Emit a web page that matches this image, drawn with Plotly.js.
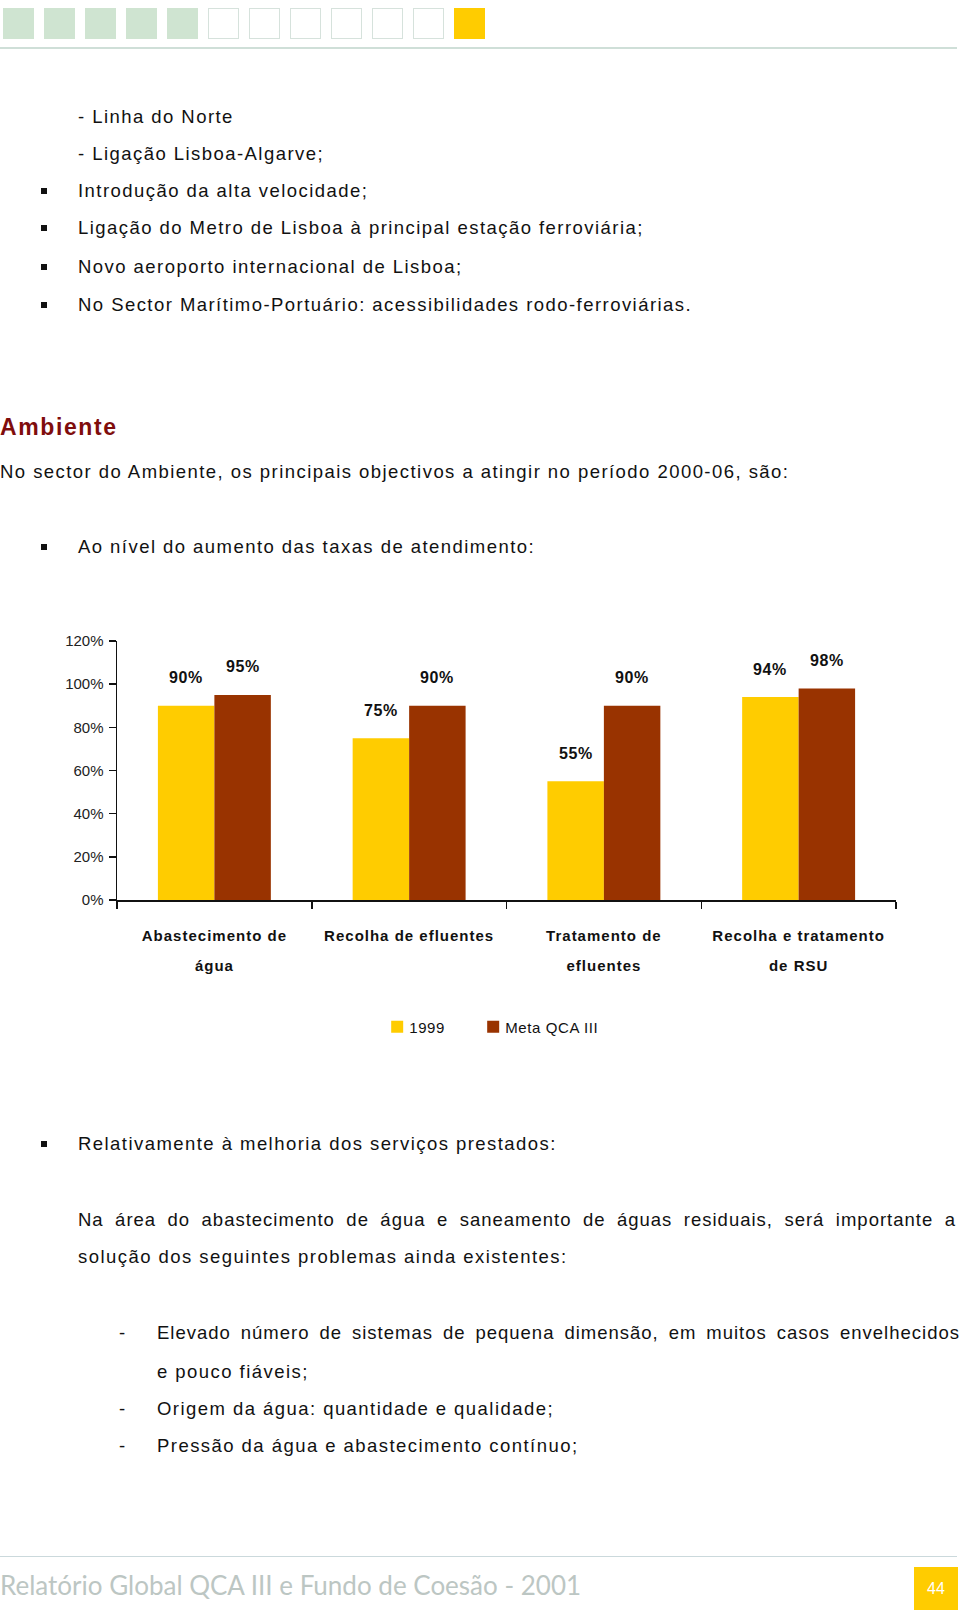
<!DOCTYPE html>
<html>
<head>
<meta charset="utf-8">
<script src="https://cdn.plot.ly/plotly-3.0.1.min.js"></script>
<style>
  html, body { margin: 0; padding: 0; background: #fff; }
  body { width: 960px; height: 1619px; position: relative; overflow: hidden;
         font-family: "Liberation Sans", Arial, sans-serif; color: #111; }
  .t { position: absolute; font-size: 18.5px; line-height: 24px; white-space: nowrap; letter-spacing: 1.45px; }
  .sq { position: absolute; width: 6px; height: 6px; background: #111; }
  .hs { position: absolute; top: 8px; width: 31px; height: 31px; box-sizing: border-box; }
  .hline { position: absolute; left: 0; width: 957px; height: 0; }
  #chart { position: absolute; left: 0; top: 600px; width: 960px; height: 460px; }
  .xtick text { letter-spacing: 1px; }
  .legendtext { letter-spacing: 0.6px; }
  .annotation-text { letter-spacing: 0.6px; }
</style>
</head>
<body>

<!-- header squares -->
<div class="hs" style="left:3px;background:#cfe4d1;"></div>
<div class="hs" style="left:44px;background:#cfe4d1;"></div>
<div class="hs" style="left:85px;background:#cfe4d1;"></div>
<div class="hs" style="left:126px;background:#cfe4d1;"></div>
<div class="hs" style="left:167px;background:#cfe4d1;"></div>
<div class="hs" style="left:208px;border:1.5px solid #d6e2dc;"></div>
<div class="hs" style="left:249px;border:1.5px solid #d6e2dc;"></div>
<div class="hs" style="left:290px;border:1.5px solid #d6e2dc;"></div>
<div class="hs" style="left:331px;border:1.5px solid #d6e2dc;"></div>
<div class="hs" style="left:372px;border:1.5px solid #d6e2dc;"></div>
<div class="hs" style="left:413px;border:1.5px solid #d6e2dc;"></div>
<div class="hs" style="left:454px;background:#ffcc00;"></div>
<div class="hline" style="top:47px;border-top:2px solid #cfdfd8;"></div>

<!-- top list -->
<div class="t" style="left:78px;top:105px;">- Linha do Norte</div>
<div class="t" style="left:78px;top:142px;">- Ligação Lisboa-Algarve;</div>
<div class="sq" style="left:41px;top:188px;"></div>
<div class="t" style="left:78px;top:179px;">Introdução da alta velocidade;</div>
<div class="sq" style="left:41px;top:225px;"></div>
<div class="t" style="left:78px;top:216px;">Ligação do Metro de Lisboa à principal estação ferroviária;</div>
<div class="sq" style="left:41px;top:264px;"></div>
<div class="t" style="left:78px;top:255px;">Novo aeroporto internacional de Lisboa;</div>
<div class="sq" style="left:41px;top:302px;"></div>
<div class="t" style="left:78px;top:293px;">No Sector Marítimo-Portuário: acessibilidades rodo-ferroviárias.</div>

<!-- Ambiente -->
<div class="t" style="left:0px;top:413px;font-size:23px;line-height:28px;font-weight:bold;color:#7f0d0d;letter-spacing:1.6px;">Ambiente</div>
<div class="t" style="left:0px;top:460px;">No sector do Ambiente, os principais objectivos a atingir no período 2000-06, são:</div>
<div class="sq" style="left:41px;top:544px;"></div>
<div class="t" style="left:78px;top:535px;">Ao nível do aumento das taxas de atendimento:</div>

<div id="chart"></div>

<!-- lower text -->
<div class="sq" style="left:41px;top:1141px;"></div>
<div class="t" style="left:78px;top:1132px;">Relativamente à melhoria dos serviços prestados:</div>
<div class="t" style="left:78px;top:1208px;width:878px;white-space:normal;text-align:justify;text-align-last:justify;letter-spacing:1px;">Na área do abastecimento de água e saneamento de águas residuais, será importante a</div>
<div class="t" style="left:78px;top:1245px;">solução dos seguintes problemas ainda existentes:</div>

<div class="t" style="left:119px;top:1321px;">-</div>
<div class="t" style="left:157px;top:1321px;width:803px;white-space:normal;text-align:justify;text-align-last:justify;letter-spacing:1px;">Elevado número de sistemas de pequena dimensão, em muitos casos envelhecidos</div>
<div class="t" style="left:157px;top:1360px;">e pouco fiáveis;</div>
<div class="t" style="left:119px;top:1397px;">-</div>
<div class="t" style="left:157px;top:1397px;">Origem da água: quantidade e qualidade;</div>
<div class="t" style="left:119px;top:1434px;">-</div>
<div class="t" style="left:157px;top:1434px;">Pressão da água e abastecimento contínuo;</div>

<!-- footer -->
<div class="hline" style="top:1556px;border-top:1.5px solid #cbd9dc;"></div>
<div class="t" style="left:0px;top:1570px;font-family:Lato,'Open Sans',sans-serif;font-size:26px;line-height:30px;color:#bcc6c3;letter-spacing:0px;">Relatório Global QCA III e Fundo de Coesão - 2001</div>
<div style="position:absolute;left:914px;top:1567px;width:44px;height:43px;background:#ffcc00;color:#fff;font-family:'Liberation Sans',Arial,sans-serif;font-size:16px;line-height:43px;text-align:center;">44</div>

<script>
// ---- chart data ----
const categories = ['Abastecimento de água', 'Recolha de efluentes', 'Tratamento de efluentes', 'Recolha e tratamento de RSU'];
const tickLines = [['Abastecimento de', 'água'], ['Recolha de efluentes'], ['Tratamento de', 'efluentes'], ['Recolha e tratamento', 'de RSU']];
const seriesNames = ['1999', 'Meta QCA III'];
const values1999 = [0.90, 0.75, 0.55, 0.94];
const valuesMeta = [0.95, 0.90, 0.90, 0.98];
const yTickVals = [0, 0.2, 0.4, 0.6, 0.8, 1.0, 1.2];

const colors = ['#ffcc00', '#993300'];
const legendWidths = [51, 120];
const margin = {l: 117, r: 64, t: 41, b: 160};
const W = 960, H = 460;
const bargap = 0.42;

const tickText = tickLines.map(lines => lines.map(s => '<span style="font-size:15px">' + s + '</span>').join('<br>'));

const traces = [values1999, valuesMeta].map((vals, i) => ({
  type: 'bar',
  name: seriesNames[i],
  x: categories,
  y: vals,
  legendwidth: legendWidths[i],
  marker: {color: colors[i], line: {width: 0}},
  hoverinfo: 'skip'
}));

// value labels above bars
const plotW = W - margin.l - margin.r;
const barW = plotW / categories.length * (1 - bargap) / 2;
const annotations = [];
[values1999, valuesMeta].forEach((vals, i) => {
  vals.forEach((v, j) => {
    annotations.push({
      x: categories[j], y: v, xref: 'x', yref: 'y',
      text: '<b>' + Math.round(v * 100) + '%</b>',
      showarrow: false,
      xshift: (i === 0 ? -1 : 1) * barW / 2,
      yshift: 28,
      yanchor: 'middle',
      font: {family: 'Liberation Sans, Arial, sans-serif', size: 16, color: '#111'}
    });
  });
});

const layout = {
  width: W, height: H,
  margin: margin,
  paper_bgcolor: 'rgba(0,0,0,0)',
  plot_bgcolor: 'rgba(0,0,0,0)',
  barmode: 'group',
  bargap: bargap,
  bargroupgap: 0,
  font: {family: 'Liberation Sans, Arial, sans-serif', color: '#111'},
  showlegend: true,
  legend: {
    orientation: 'h', x: 0.334, xanchor: 'left', y: -0.49, yanchor: 'middle',
    font: {size: 15, color: '#111'}, itemwidth: 30, traceorder: 'normal'
  },
  xaxis: {
    type: 'category',
    tickvals: categories,
    ticktext: tickText,
    tickfont: {size: 23, weight: 'bold', color: '#111'},
    ticks: 'outside', ticklen: 7, tickwidth: 1.5, tickcolor: '#111',
    tickson: 'boundaries',
    ticklabelstandoff: 12,
    showline: true, linecolor: '#111', linewidth: 1.5,
    showgrid: false, zeroline: false, fixedrange: true
  },
  yaxis: {
    range: [0, 1.2],
    tickvals: yTickVals,
    tickformat: '.0%',
    tickfont: {size: 15, color: '#222'},
    ticks: 'outside', ticklen: 7, tickwidth: 1.5, tickcolor: '#111',
    ticklabelstandoff: 2,
    showline: true, linecolor: '#111', linewidth: 1.5,
    showgrid: false, zeroline: false, fixedrange: true
  },
  annotations: annotations
};

Plotly.newPlot('chart', traces, layout, {displayModeBar: false, staticPlot: true}).then(() => {
  // pull legend labels closer to their swatches, as in the original
  document.querySelectorAll('#chart .legendtext').forEach(t => {
    t.setAttribute('x', parseFloat(t.getAttribute('x')) - 8);
  });
});
</script>
</body>
</html>
